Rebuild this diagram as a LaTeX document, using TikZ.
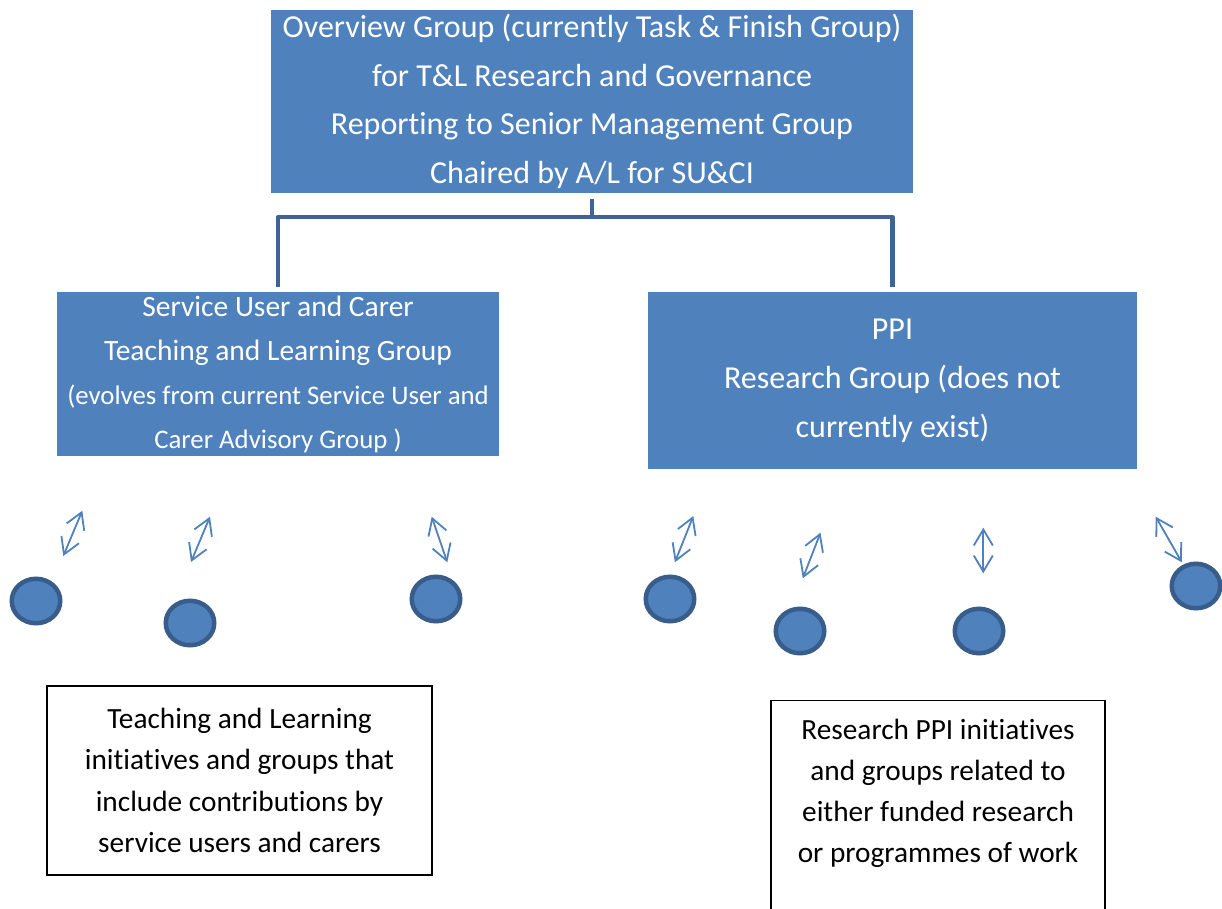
\documentclass[tikz,border=0pt]{standalone}
\usepackage{fontspec}
\setmainfont{Carlito}[Ligatures=NoCommon]
\usepackage{tikz}
\usetikzlibrary{
    positioning,
    arrows.meta,
    shapes.geometric
}
\definecolor{groupBlue}{RGB}{79, 129, 189}
\definecolor{ringBlue}{RGB}{56, 93, 138}
\definecolor{treeBlue}{RGB}{61, 100, 148}
\newcommand{\smallline}{\fontsize{26.8}{43}\selectfont}

\begin{document}
\begin{tikzpicture}[x=1pt, y=-1pt,
        group/.style={fill=groupBlue, text=white, inner sep=0pt, align=center},
        plain/.style={draw=black, line width=1.4pt, inner sep=0pt, align=center,
            font=\fontsize{29.3}{41.2}\selectfont},
        member/.style={ellipse, draw=ringBlue, fill=groupBlue, line width=4.5pt,
            minimum width=48.5pt, minimum height=44.5pt, inner sep=0pt},
        link/.style={groupBlue, line width=1.8pt,
            {Straight Barb[length=16pt, width=19pt]}-{Straight Barb[length=16pt, width=19pt]}},
        tree/.style={treeBlue, line width=4.5pt, line join=round,
            shorten <=6pt, shorten >=5pt}]
    \useasboundingbox (0,0) rectangle (1222,909);
    \clip (0,0) rectangle (1222,909);

    % overview group on top
    \node[group, minimum width=642pt, minimum height=183pt,
        font=\fontsize{32}{48.7}\selectfont] (overview) at (592,101.5)
        {Overview Group (currently Task \& Finish Group)\\
         for T\&L Research and Governance\\
         Reporting to Senior Management Group\\
         Chaired by A/L for SU\&CI};

    % the two groups below it
    \node[group, minimum width=442pt, minimum height=164pt,
        font=\fontsize{29.5}{44}\selectfont] (sucg) at (278,374)
        {Service User and Carer\\
         Teaching and Learning Group\\
         \smallline (evolves from current Service User and\\
         \smallline Carer Advisory Group )};
    \node[group, minimum width=489pt, minimum height=177pt,
        font=\fontsize{32}{49}\selectfont] (ppi) at (892.5,380.5)
        {PPI\\
         Research Group (does not\\
         currently exist)};

    \draw[tree] (overview.south) -- ++(0,24) -| (sucg.north);
    \draw[tree] (overview.south) -- ++(0,24) -| (ppi.north);

    % initiatives as dots, each with a two way arrow
    \foreach \i/\x/\y in {1/36/601, 2/190/623, 3/436/599, 4/670/599,
                          5/800/631, 6/979/631, 7/1196/586}
        \node[member] (m\i) at (\x,\y) {};

    \foreach \i/\xa/\ya/\xb/\yb in {1/63.3/556/82.3/510.7, 2/191/562/210/516.7,
            3/447.3/562.3/431.7/516.7, 4/674.9/562.3/693.3/516,
            5/802.8/578.3/820.5/532.7, 6/983.3/573.3/983.3/527.7,
            7/1181.8/562.3/1155.7/516.7} {
        \coordinate (lo\i) at (\xa,\ya);
        \coordinate (hi\i) at (\xb,\yb);
        \draw[link] (lo\i) -- (hi\i);
    }

    % text boxes at the bottom
    \node[plain, minimum width=385pt, minimum height=189pt] (tlinit) at (239.5,780.5)
        {Teaching and Learning\\
         initiatives and groups that\\
         include contributions by\\
         service users and carers};
    \node[plain, anchor=north, minimum width=334pt, text height=162pt, text depth=230pt]
        (resinit) at (938,700)
        {Research PPI initiatives\\
         and groups related to\\
         either funded research\\
         or programmes of work};
\end{tikzpicture}
\end{document}
